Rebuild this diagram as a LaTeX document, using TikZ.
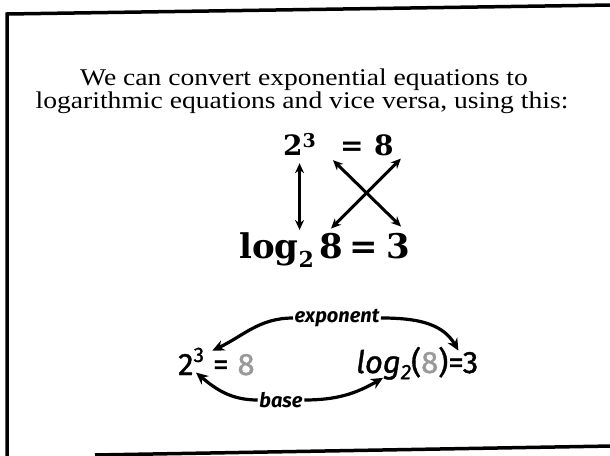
\documentclass[tikz,border=0pt]{standalone}
\usepackage{fontspec}
\setmainfont{Liberation Serif}
\newfontfamily\titlefont[FakeStretch=1.15]{Liberation Serif}
\newfontfamily\eqfont{DejaVu Serif}
\newfontfamily\handfont[FakeBold=1.2]{Fira Sans}
\newfontfamily\tagfont{Fira Sans}
\usetikzlibrary{arrows.meta,positioning}

\begin{document}
\begin{tikzpicture}[x=1pt, y=-1pt,
  title/.style={anchor=base, inner sep=0pt, font=\titlefont\fontsize{24}{24}\selectfont},
  topeq/.style={anchor=base west, inner sep=0pt, font=\eqfont\fontsize{28}{32}\selectfont\bfseries},
  boteq/.style={anchor=base west, inner sep=0pt, font=\eqfont\fontsize{34}{38}\selectfont\bfseries},
  hand/.style={anchor=base west, inner sep=0pt, font=\handfont\fontsize{31}{32}\selectfont},
  tag/.style={inner sep=1.5pt, font=\tagfont\fontsize{20}{22}\selectfont\bfseries\itshape},
  flow/.style={{Stealth[length=10pt,width=9pt]}-{Stealth[length=10pt,width=9pt]}, line width=3pt},
  swing/.style={-{Stealth[length=12pt,width=11pt]}, line width=3.2pt}
]
\useasboundingbox (0,0) rectangle (610,455);
% frame of the slide
\draw[line width=3.5pt] (612,5) -- (7,14) -- (7,458);
\draw[line width=3.5pt] (95,455) -- (612,446);

\node[title] (introa) at (304,85) {We can convert exponential equations to};
\node[title] (introb) at (302,108) {logarithmic equations and vice versa, using this:};

% exponential form
\node[topeq] (pow) at (283,155) {2\raisebox{8pt}{\fontsize{19}{19}\selectfont 3}};
\node[topeq] (topsign) at (340,155) {=};
\node[topeq] (topres) at (374,155) {8};
% logarithmic form
\node[boteq] (logb) at (239,258) {log\raisebox{-9pt}{\fontsize{22}{22}\selectfont 2}};
\node[boteq] (botarg) at (319,258) {8};
\node[boteq] (botsign) at (349,258) {=};
\node[boteq] (botres) at (386,258) {3};

\draw[flow] ([yshift=-8pt]pow.south) -- ([yshift=2pt]pow.south |- logb.north);
\draw[flow] ([xshift=-7pt,yshift=-5pt]topsign.south west) -- ([xshift=3pt,yshift=6pt]botres.north);
\draw[flow] ([xshift=7pt,yshift=-3pt]topres.south east) -- ([yshift=4pt]botarg.north);

% worked example
\node[hand] (lpow) at (178,375) {2\raisebox{0.42em}{\fontsize{21}{21}\selectfont 3}\hspace{9pt}=\hspace{9pt}\textcolor{black!40}{8}};
\node[hand] (rlog) at (356,373) {\itshape log\raisebox{-0.2em}{\fontsize{21}{21}\selectfont 2}\upshape(\textcolor{black!40}{8})=3};
\node[tag] (expo) at (337,318) {exponent};
\node[tag] (base) at (281,400) {base};

\draw[swing] (expo.west) to[out=180, in=25] ([xshift=-4pt,yshift=-3pt]lpow.north);
\draw[swing] (expo.east) to[out=0, in=120] ([xshift=-20pt,yshift=-4pt]rlog.north east);
\draw[swing] (base.west) to[out=180, in=-40] ([xshift=18pt,yshift=3pt]lpow.south west);
\draw[swing] (base.east) to[out=0, in=-150] ([xshift=27pt,yshift=2pt]rlog.south west);
\end{tikzpicture}
\end{document}
